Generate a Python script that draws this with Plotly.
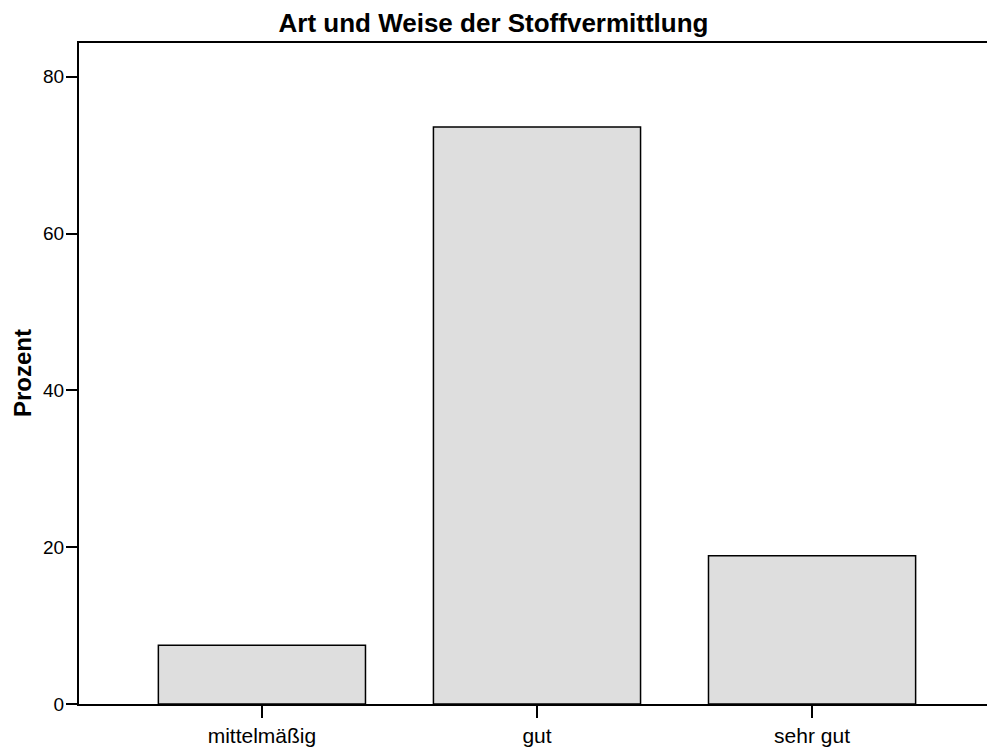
import plotly.graph_objects as go

categories = ["mittelmäßig", "gut", "sehr gut"]
prozent = [7.5, 73.6, 18.9]
y_ticks = [0, 20, 40, 60, 80]

W, H = 987, 747
L, R, T, B = 79, 0, 43, 43

fig = go.Figure()
fig.add_trace(go.Bar(
    x=categories, y=prozent,
    width=0.753,
    marker=dict(color="#dedede", line=dict(color="#000000", width=1.5)),
    hoverinfo="skip",
))

font = "Liberation Sans, Arial, sans-serif"
fig.update_layout(
    width=W, height=H,
    margin=dict(l=L, r=R, t=T, b=B),
    paper_bgcolor="white", plot_bgcolor="white",
    showlegend=False,
    font=dict(family=font, color="black", size=18),
    title=dict(text="<b>Art und Weise der Stoffvermittlung</b>",
               x=0.5, xref="container", xanchor="center",
               y=1 - 23 / H, yref="container", yanchor="middle",
               font=dict(size=26, family=font, color="black")),
    xaxis=dict(
        range=[-0.665, 2.636],
        showline=True, linecolor="black", linewidth=2, mirror=True,
        ticks="outside", ticklen=12, tickwidth=2, tickcolor="black",
        tickfont=dict(size=21),
        showgrid=False, zeroline=False,
    ),
    yaxis=dict(
        range=[0, 84.3],
        tickvals=y_ticks,
        showline=True, linecolor="black", linewidth=2,
        ticks="outside", ticklen=11, tickwidth=2, tickcolor="black",
        tickfont=dict(size=19),
        ticklabelstandoff=-2,
        showgrid=False, zeroline=False,
    ),
    annotations=[dict(
        text="<b>Prozent</b>", textangle=-90,
        xref="paper", yref="paper",
        x=(22 - L) / (W - L - R), y=(704 - 373) / (704 - 43),
        xanchor="center", yanchor="middle", showarrow=False,
        font=dict(size=24, family=font, color="black"),
    )],
)

fig.write_html(
    "out.html",
    config={"displayModeBar": False},
    post_script="document.body.style.margin='0';document.body.style.overflow='hidden';",
)
